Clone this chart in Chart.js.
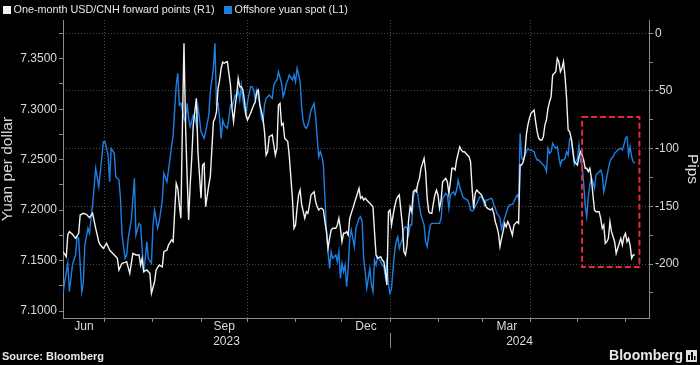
<!DOCTYPE html>
<html>
<head>
<meta charset="utf-8">
<style>
  html, body { margin: 0; padding: 0; background: #000; }
  canvas { display: block; }
</style>
<script src="https://cdn.jsdelivr.net/npm/chart.js@4.4.1/dist/chart.umd.min.js"></script>
</head>
<body>
<canvas id="chart" width="700" height="365"></canvas>
<script>
// ===== data (x = days counted from 2023-06-01) =====
const spotDays = [
  3, 6, 7, 9, 11, 12, 13, 15, 16, 17,
  19, 20, 21, 22, 24, 26, 27, 29, 30, 32,
  33, 34, 36, 37, 39, 40, 41, 43, 44, 45,
  47, 49, 50, 52, 53, 55, 56, 57, 58, 60,
  61, 62, 64, 65, 67, 68, 70, 72, 74, 76,
  77, 78, 79, 81, 82, 83, 84, 85, 87, 88,
  89, 90, 91, 92, 94, 95, 97, 98, 100, 101,
  102, 103, 104, 105, 106, 107, 109, 110, 111, 112,
  113, 114, 115, 116, 117, 118, 119, 120, 121, 122,
  124, 125, 126, 127, 128, 129, 130, 131, 132, 133,
  134, 135, 136, 138, 139, 140, 141, 142, 144, 145,
  146, 147, 148, 149, 151, 152, 153, 154, 155, 156,
  157, 158, 159, 160, 161, 162, 163, 165, 166, 167,
  168, 169, 170, 171, 172, 173, 174, 175, 176, 177,
  179, 180, 181, 182, 183, 184, 185, 186, 187, 188,
  189, 190, 191, 192, 194, 195, 196, 197, 198, 199,
  200, 201, 202, 203, 204, 205, 206, 208, 209, 210,
  211, 212, 213, 214, 215, 216, 217, 218, 219, 220,
  222, 223, 224, 225, 226, 227, 228, 229, 230, 231,
  232, 233, 234, 236, 237, 238, 239, 240, 241, 242,
  243, 244, 245, 246, 247, 248, 250, 251, 252, 253,
  254, 255, 256, 257, 258, 259, 260, 261, 262, 264,
  265, 266, 267, 268, 269, 270, 271, 272, 273, 274,
  275, 276, 277, 279, 280, 281, 282, 283, 284, 285,
  286, 287, 288, 289, 290, 291, 293, 294, 295, 296,
  297, 298, 299, 300, 301, 302, 303, 304, 305, 307,
  308, 309, 310, 311, 312, 313, 314, 315, 316, 317,
  318, 319, 321, 322, 323, 324, 325, 326, 327, 328,
  329, 330, 331, 332, 333, 335, 336, 337, 338, 339,
  340, 341, 342, 343, 344, 345, 346, 347, 349, 350,
  351, 352, 353, 354, 355, 356, 357, 358, 359, 360,
  361, 363, 364, 365, 366, 367, 368, 369, 370, 371,
  372
];
const spotYuan = [
  7.1191, 7.1473, 7.1191, 7.1456, 7.1555, 7.1736, 7.1720, 7.1191, 7.1275, 7.1654,
  7.1820, 7.1770, 7.1919, 7.2050, 7.2414, 7.2232, 7.2380, 7.2678, 7.2678, 7.2546,
  7.2281, 7.2612, 7.2563, 7.2331, 7.2298, 7.2117, 7.1753, 7.1522, 7.1555, 7.1720,
  7.1902, 7.2315, 7.1753, 7.1869, 7.1852, 7.1374, 7.1522, 7.1687, 7.1522, 7.1473,
  7.1852, 7.2001, 7.1820, 7.1885, 7.2100, 7.2365, 7.2281, 7.2513, 7.2744, 7.3240,
  7.3356, 7.3041, 7.3058, 7.2910, 7.2876, 7.3058, 7.2910, 7.2826, 7.2942, 7.2926,
  7.2843, 7.3025, 7.2910, 7.2777, 7.2711, 7.2777, 7.2942, 7.3173, 7.3405, 7.3653,
  7.3041, 7.3058, 7.2910, 7.2711, 7.2893, 7.2843, 7.2811, 7.2910, 7.3041, 7.3025,
  7.3074, 7.3141, 7.3124, 7.3190, 7.3091, 7.3240, 7.3091, 7.3009, 7.2942, 7.3074,
  7.3223, 7.3223, 7.3190, 7.3091, 7.3190, 7.3124, 7.3041, 7.2910, 7.2876, 7.3041,
  7.3108, 7.3124, 7.3141, 7.3108, 7.3240, 7.3272, 7.3289, 7.3371, 7.3256, 7.3124,
  7.3173, 7.3256, 7.3289, 7.3339, 7.3289, 7.3339, 7.3272, 7.3405, 7.3339, 7.3272,
  7.3009, 7.2876, 7.2826, 7.2811, 7.2843, 7.2910, 7.2992, 7.3058, 7.2926, 7.2711,
  7.2529, 7.2579, 7.2529, 7.2447, 7.2117, 7.1786, 7.1588, 7.1423, 7.1588, 7.1522,
  7.1555, 7.1489, 7.1588, 7.1324, 7.1473, 7.1390, 7.1456, 7.1241, 7.1423, 7.1720,
  7.1803, 7.1720, 7.1637, 7.1820, 7.1919, 7.1935, 7.1885, 7.1522, 7.1390, 7.1225,
  7.1324, 7.1423, 7.1258, 7.1191, 7.1505, 7.1456, 7.1538, 7.1489, 7.1456, 7.1439,
  7.1340, 7.1522, 7.1258, 7.1175, 7.1225, 7.1423, 7.1588, 7.1687, 7.1736, 7.1621,
  7.1720, 7.1820, 7.1835, 7.1820, 7.1753, 7.1852, 7.1852, 7.2117, 7.2182, 7.2216,
  7.2150, 7.2034, 7.1951, 7.1852, 7.1687, 7.1637, 7.1753, 7.1852, 7.1869, 7.1869,
  7.1869, 7.1869, 7.1869, 7.1869, 7.1919, 7.2117, 7.2166, 7.2150, 7.2018, 7.2150,
  7.2166, 7.2182, 7.2150, 7.2199, 7.2298, 7.2232, 7.2182, 7.2133, 7.2117, 7.2100,
  7.2067, 7.2001, 7.1991, 7.2001, 7.2034, 7.2067, 7.2100, 7.2133, 7.2133, 7.2100,
  7.2050, 7.2100, 7.2100, 7.2117, 7.2110, 7.2050, 7.2018, 7.1968, 7.1951, 7.1919,
  7.1813, 7.1869, 7.1919, 7.1968, 7.2018, 7.2050, 7.2057, 7.2083, 7.2117, 7.2150,
  7.2117, 7.2761, 7.2513, 7.2496, 7.2546, 7.2579, 7.2612, 7.2596, 7.2596, 7.2579,
  7.2529, 7.2496, 7.2496, 7.2480, 7.2464, 7.2447, 7.2430, 7.2380, 7.2612, 7.2563,
  7.2579, 7.2662, 7.2612, 7.2628, 7.2529, 7.2447, 7.2496, 7.2496, 7.2513, 7.2579,
  7.2546, 7.2711, 7.2711, 7.2579, 7.2447, 7.2513, 7.2645, 7.2480, 7.2447, 7.2266,
  7.2050, 7.1935, 7.2133, 7.2249, 7.2315, 7.2281, 7.2216, 7.2348, 7.2380, 7.2397,
  7.2348, 7.2182, 7.2249, 7.2331, 7.2414, 7.2480, 7.2513, 7.2529, 7.2563, 7.2579,
  7.2596, 7.2612, 7.2596, 7.2645, 7.2711, 7.2727, 7.2546, 7.2628, 7.2529, 7.2480,
  7.2464
];

const fwdDays = [
  3, 5, 6, 7, 9, 11, 13, 14, 16, 18,
  20, 22, 24, 26, 27, 29, 31, 33, 34, 36,
  38, 39, 41, 43, 44, 46, 47, 48, 50, 52,
  53, 54, 55, 57, 59, 60, 62, 63, 65, 67,
  68, 70, 71, 73, 74, 75, 76, 77, 78, 79,
  80, 81, 82, 83, 84, 85, 86, 87, 89, 90,
  91, 92, 93, 94, 95, 97, 98, 100, 101, 102,
  103, 104, 105, 106, 107, 108, 109, 111, 112, 113,
  114, 115, 116, 117, 118, 119, 120, 121, 122, 124,
  126, 127, 128, 129, 130, 132, 133, 134, 135, 136,
  138, 139, 140, 141, 142, 143, 144, 145, 146, 148,
  149, 151, 152, 153, 154, 155, 156, 157, 158, 159,
  160, 161, 162, 163, 165, 166, 167, 168, 169, 170,
  171, 172, 173, 174, 175, 176, 177, 179, 180, 181,
  182, 183, 184, 185, 186, 187, 188, 189, 190, 191,
  192, 194, 195, 196, 197, 198, 199, 200, 201, 202,
  203, 204, 205, 206, 208, 209, 210, 211, 212, 213,
  214, 215, 216, 217, 218, 219, 220, 222, 223, 224,
  225, 226, 227, 228, 229, 230, 231, 232, 233, 234,
  236, 237, 238, 239, 240, 241, 242, 243, 244, 245,
  246, 247, 248, 250, 251, 252, 253, 254, 255, 256,
  257, 258, 259, 260, 261, 262, 264, 265, 266, 267,
  268, 269, 270, 271, 272, 273, 274, 275, 276, 277,
  279, 280, 281, 282, 283, 284, 285, 286, 287, 288,
  289, 290, 291, 293, 294, 295, 296, 297, 298, 299,
  300, 301, 302, 303, 304, 305, 307, 308, 309, 310,
  311, 312, 313, 314, 315, 316, 317, 318, 319, 321,
  322, 323, 324, 325, 326, 327, 328, 329, 330, 331,
  332, 333, 335, 336, 337, 338, 339, 340, 341, 342,
  343, 344, 345, 346, 347, 349, 350, 351, 352, 353,
  354, 355, 356, 357, 358, 359, 360, 361, 363, 364,
  365, 366, 367, 368, 369, 370, 371, 372
];
const fwdPips = [
  -189.3, -193.6, -174.8, -171.9, -174.2, -177.7, -173.3, -157.5, -156.0, -156.9,
  -159.8, -156.0, -169.0, -180.6, -183.5, -186.3, -182.0, -187.8, -189.3, -192.1,
  -195.0, -205.1, -199.3, -198.5, -197.9, -208.0, -199.3, -190.7, -192.1, -192.1,
  -200.8, -195.0, -206.6, -205.1, -208.0, -225.3, -215.3, -205.1, -200.8, -202.3,
  -189.3, -187.8, -183.5, -179.1, -180.6, -154.6, -130.0, -134.3, -148.8, -160.3,
  -79.5, -8.7, -79.5, -122.8, -161.8, -131.5, -108.3, -79.5, -56.3, -102.6,
  -122.8, -143.0, -114.1, -112.7, -150.3, -131.5, -124.3, -76.6, -73.7, -67.9,
  -47.7, -40.5, -30.3, -25.1, -26.0, -25.1, -24.6, -44.8, -65.0, -76.6,
  -63.6, -53.5, -39.0, -46.3, -46.3, -49.1, -57.8, -70.8, -75.1, -69.3,
  -62.1, -59.3, -50.6, -49.1, -62.1, -73.7, -85.3, -105.5, -102.6, -89.6,
  -88.1, -96.8, -105.5, -99.7, -62.1, -60.7, -79.5, -78.0, -91.0, -93.9,
  -106.9, -143.0, -169.0, -166.1, -151.7, -140.1, -135.8, -148.8, -154.6, -160.3,
  -154.6, -156.0, -148.8, -140.1, -137.3, -145.9, -150.3, -153.1, -151.7, -151.7,
  -153.1, -163.3, -171.9, -186.3, -177.7, -170.5, -169.0, -169.0, -166.1, -160.3,
  -169.0, -180.6, -173.3, -173.3, -171.9, -174.8, -160.3, -156.0, -151.7, -147.3,
  -143.0, -134.3, -143.0, -141.6, -144.5, -143.0, -144.5, -145.9, -147.3, -148.8,
  -150.3, -171.9, -192.1, -195.0, -193.6, -196.5, -197.9, -206.6, -218.1, -154.6,
  -153.1, -166.1, -157.5, -150.3, -144.5, -141.6, -140.1, -166.1, -189.3, -192.1,
  -183.5, -161.8, -150.3, -154.6, -137.3, -135.8, -137.3, -130.0, -125.7, -117.0,
  -108.3, -119.9, -143.0, -154.6, -156.0, -156.0, -147.3, -140.1, -135.8, -140.1,
  -151.7, -144.5, -128.6, -125.7, -128.6, -138.7, -128.6, -117.0, -117.0, -118.5,
  -109.8, -104.0, -98.3, -101.1, -102.6, -102.6, -105.5, -106.9, -111.3, -134.3,
  -151.7, -138.7, -135.8, -137.3, -138.7, -140.1, -143.0, -145.9, -150.3, -151.7,
  -153.1, -151.7, -156.0, -163.3, -167.6, -173.3, -184.9, -177.7, -171.9, -164.7,
  -167.6, -163.3, -166.1, -174.8, -166.1, -164.7, -163.3, -164.7, -114.1, -114.1,
  -111.3, -105.5, -88.1, -79.5, -73.7, -69.3, -66.5, -76.6, -85.3, -91.0,
  -92.5, -92.5, -89.6, -79.5, -75.1, -65.0, -59.3, -54.9, -36.1, -33.3,
  -21.7, -24.6, -33.3, -30.3, -24.6, -37.6, -56.3, -83.8, -85.3, -91.0,
  -101.1, -111.3, -114.1, -106.9, -102.6, -105.5, -109.8, -117.0, -117.0, -119.9,
  -117.0, -125.7, -140.1, -153.1, -154.6, -154.6, -160.3, -169.0, -166.1, -182.0,
  -180.6, -177.7, -163.3, -171.9, -176.3, -180.6, -190.7, -186.3, -177.7, -183.5,
  -176.3, -173.3, -180.6, -177.7, -183.5, -195.0, -192.1, -192.1
];

// tick labels
const spotTicks = [7.10, 7.15, 7.20, 7.25, 7.30, 7.35];
const pipTicks = [0, -50, -100, -150, -200];
const monthNames = ['Jun', 'Sep', 'Dec', 'Mar'];
const monthDates = [[2023, 6], [2023, 9], [2023, 12], [2024, 3]];
const yearNames = ['2023', '2024'];

// highlighted window (red dashed box)
const boxFrom = [2024, 5, 4];
const boxTo = [2024, 6, 10];
const boxPips = [-72.5, -202.5];

// ===== styles =====
const FONT = "'Liberation Sans', Arial, sans-serif";
const TEXT = '#dadada';
const AXIS = '#8a8a8a';
const GRID = '#4a4a4a';
const BLUE = '#1d7fe2';
const WHITE = '#f2f2f2';
const RED = '#e5293d';

// ===== date helpers =====
const DAY0 = Date.UTC(2023, 5, 1);
const dayOf = (y, m, d = 1) => Math.round((Date.UTC(y, m - 1, d) - DAY0) / 864e5);

const X_MIN = 2.9, X_MAX = 381.2;

const monthStarts = [];
for (let i = 0; i <= 13; i++) {
  const y = 2023 + Math.floor((5 + i) / 12);
  const m = (5 + i) % 12 + 1;
  monthStarts.push({ y, m, day: dayOf(y, m) });
}
const quarterDays = monthStarts.filter(s => [1, 4, 7, 10].includes(s.m)).map(s => s.day);

const spotTickValues = [];
spotTicks.forEach(v => { spotTickValues.push(v, +(v + 0.025).toFixed(3)); });
const pipTickValues = [];
pipTicks.forEach(v => { pipTickValues.push(v, v - 25); });

// ===== decorations: legend, date labels, box, footer =====
const decor = {
  id: 'decor',
  beforeDraw(chart) {
    const { ctx, width, height } = chart;
    ctx.save();
    ctx.fillStyle = '#000';
    ctx.fillRect(0, 0, width, height);
    ctx.restore();
  },
  afterDatasetsDraw(chart) {
    const { ctx, scales: { x, yPips } } = chart;
    const x1 = x.getPixelForValue(dayOf(...boxFrom));
    const x2 = x.getPixelForValue(dayOf(...boxTo));
    const y1 = yPips.getPixelForValue(boxPips[0]);
    const y2 = yPips.getPixelForValue(boxPips[1]);
    ctx.save();
    ctx.strokeStyle = RED;
    ctx.lineWidth = 2;
    ctx.setLineDash([6, 3]);
    ctx.strokeRect(x1, y1, x2 - x1, y2 - y1);
    ctx.restore();
  },
  afterDraw(chart) {
    const { ctx, chartArea: area, scales: { x } } = chart;
    const clampX = v => Math.min(Math.max(x.getPixelForValue(v), area.left), area.right);
    ctx.save();

    // legend
    ctx.font = `10.8px ${FONT}`;
    ctx.textAlign = 'left';
    ctx.textBaseline = 'middle';
    let lx = 3;
    chart.data.datasets.forEach(ds => {
      ctx.fillStyle = ds.borderColor;
      ctx.fillRect(lx, 6, 8, 8);
      ctx.fillStyle = '#e8e8e8';
      ctx.fillText(ds.label, lx + 10.5, 10.5);
      lx += 10.5 + ctx.measureText(ds.label).width + 9.5;
    });

    // month and year labels
    ctx.font = `12px ${FONT}`;
    ctx.fillStyle = TEXT;
    ctx.textAlign = 'center';
    monthDates.forEach(([yy, mm], i) => {
      const a = clampX(dayOf(yy, mm));
      const b = clampX(mm === 12 ? dayOf(yy + 1, 1) : dayOf(yy, mm + 1));
      ctx.fillText(monthNames[i], (a + b) / 2, area.bottom + 8.5);
    });
    yearNames.forEach(name => {
      const yy = +name;
      const a = clampX(dayOf(yy, 1));
      const b = clampX(dayOf(yy + 1, 1));
      ctx.fillText(name, (a + b) / 2, area.bottom + 23.5);
    });
    ctx.strokeStyle = AXIS;
    ctx.lineWidth = 1;
    yearNames.slice(1).forEach(name => {
      const px = Math.round(x.getPixelForValue(dayOf(+name, 1))) + 0.5;
      ctx.beginPath();
      ctx.moveTo(px, area.bottom + 15);
      ctx.lineTo(px, area.bottom + 30);
      ctx.stroke();
    });

    // footer
    ctx.textAlign = 'left';
    ctx.font = `bold 11px ${FONT}`;
    ctx.fillStyle = '#e8e8e8';
    ctx.fillText('Source: Bloomberg', 2, 356.5);
    ctx.textAlign = 'right';
    ctx.font = `bold 14px ${FONT}`;
    ctx.fillText('Bloomberg', 683, 356);
    ctx.fillStyle = '#e0e0e0';
    ctx.fillRect(686, 350, 11, 12);
    ctx.fillStyle = '#000';
    ctx.fillRect(688, 355, 2, 5);
    ctx.fillRect(691, 352, 2, 8);
    ctx.fillRect(694, 356, 1.5, 4);
    ctx.restore();
  }
};

// ===== chart =====
Chart.defaults.font.family = FONT;
Chart.defaults.color = TEXT;

new Chart(document.getElementById('chart'), {
  type: 'line',
  data: {
    datasets: [
      {
        label: 'One-month USD/CNH forward points (R1)',
        data: fwdDays.map((d, i) => ({ x: d, y: fwdPips[i] })),
        yAxisID: 'yPips',
        borderColor: WHITE,
        borderWidth: 1.4,
        pointRadius: 0,
        tension: 0
      },
      {
        label: 'Offshore yuan spot (L1)',
        data: spotDays.map((d, i) => ({ x: d, y: spotYuan[i] })),
        yAxisID: 'ySpot',
        borderColor: BLUE,
        borderWidth: 1.4,
        pointRadius: 0,
        tension: 0
      }
    ]
  },
  options: {
    responsive: false,
    devicePixelRatio: 1,
    animation: false,
    layout: { padding: { top: 20, left: 0, right: 0, bottom: 0 } },
    plugins: { legend: { display: false }, tooltip: { enabled: false } },
    scales: {
      x: {
        type: 'linear',
        min: X_MIN,
        max: X_MAX,
        afterBuildTicks: s => { s.ticks = monthStarts.filter(m => m.day > X_MIN && m.day < X_MAX).map(m => ({ value: m.day })); },
        afterFit: s => { s.height = 47; },
        ticks: { autoSkip: false, maxRotation: 0, callback: () => '' },
        grid: {
          color: c => (c.tick && quarterDays.includes(c.tick.value)) ? GRID : 'rgba(0,0,0,0)',
          tickColor: AXIS,
          tickLength: 4
        },
        border: { color: AXIS, dash: [1, 2] }
      },
      ySpot: {
        position: 'left',
        min: 7.0931,
        max: 7.3884,
        afterBuildTicks: s => { s.ticks = spotTickValues.map(v => ({ value: v })); },
        afterFit: s => { s.width = 63; },
        ticks: {
          autoSkip: false,
          padding: 2,
          font: { size: 12 },
          color: TEXT,
          callback: v => Math.abs(v * 20 - Math.round(v * 20)) < 1e-6 ? v.toFixed(4) : ''
        },
        grid: { drawOnChartArea: false, tickColor: AXIS, tickLength: 4 },
        border: { color: AXIS },
        title: { display: true, text: 'Yuan per dollar', color: TEXT, font: { size: 15.5, lineHeight: 1 }, padding: 0 }
      },
      yPips: {
        position: 'right',
        min: -246.7,
        max: 11.5,
        afterBuildTicks: s => { s.ticks = pipTickValues.map(v => ({ value: v })); },
        afterFit: s => { s.width = 51; },
        ticks: {
          autoSkip: false,
          padding: 2,
          font: { size: 12 },
          color: TEXT,
          callback: v => v % 50 === 0 ? String(v) : ''
        },
        grid: {
          color: c => (c.tick && c.tick.value % 50 === 0) ? GRID : 'rgba(0,0,0,0)',
          tickColor: AXIS,
          tickLength: 4
        },
        border: { color: AXIS, dash: [1, 2] },
        title: { display: true, text: 'Pips', color: TEXT, font: { size: 15.5, lineHeight: 1 }, padding: 0 }
      }
    }
  },
  plugins: [decor]
});
</script>
</body>
</html>
